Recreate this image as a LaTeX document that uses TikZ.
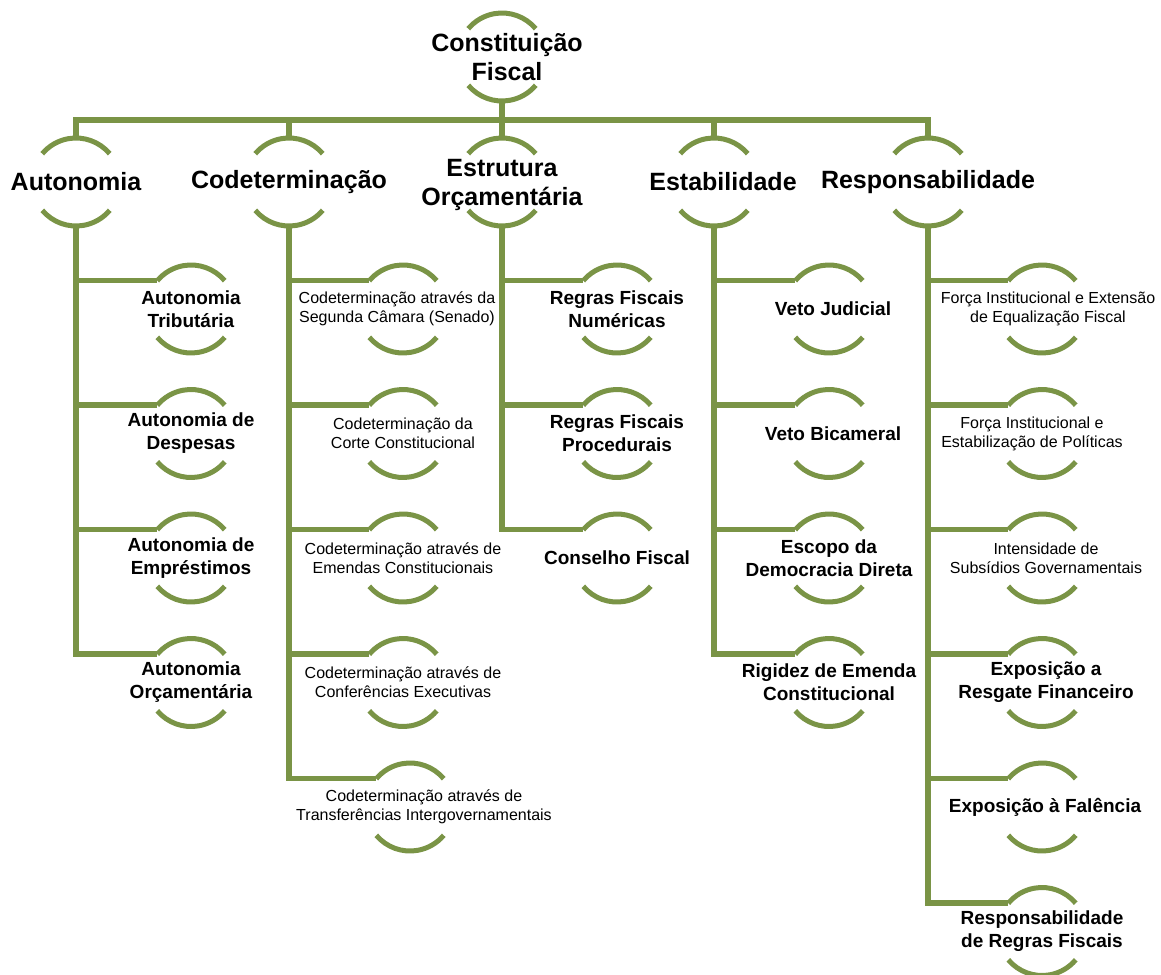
\documentclass[tikz,border=0pt]{standalone}
\usepackage{fontspec}
\setmainfont{Liberation Sans}
\definecolor{leaf}{RGB}{122,148,70}

\begin{document}
\begin{tikzpicture}[x=1pt,y=1pt,
    ring/.style={circle, minimum size=88pt, inner sep=0pt, outer sep=0pt},
    headtext/.style={font=\fontsize{25}{29}\selectfont\bfseries, align=center, inner sep=0pt},
    subtext/.style={font=\fontsize{19}{23}\selectfont\bfseries, align=center, inner sep=0pt},
    notetext/.style={font=\fontsize{16}{19}\selectfont, align=center, inner sep=0pt},
    link/.style={leaf, line width=5.5pt},
    rim/.style={leaf, line width=5pt}]
    \useasboundingbox (0,0) rectangle (1161,-974);
    % rings
    \node [ring] (root) at (502,-57) {};
    \node [ring] (aut) at (76,-182) {};
    \node [ring] (cod) at (289,-182) {};
    \node [ring] (est) at (502,-182) {};
    \node [ring] (stb) at (714,-182) {};
    \node [ring] (res) at (928,-182) {};
    \node [ring] (aut1) at (191,-309) {};
    \node [ring] (aut2) at (191,-433.5) {};
    \node [ring] (aut3) at (191,-558) {};
    \node [ring] (aut4) at (191,-682.5) {};
    \node [ring] (cod1) at (403,-309) {};
    \node [ring] (cod2) at (403,-433.5) {};
    \node [ring] (cod3) at (403,-558) {};
    \node [ring] (cod4) at (403,-682.5) {};
    \node [ring] (cod5) at (410,-807) {};
    \node [ring] (est1) at (617,-309) {};
    \node [ring] (est2) at (617,-433.5) {};
    \node [ring] (est3) at (617,-558) {};
    \node [ring] (stb1) at (829,-309) {};
    \node [ring] (stb2) at (829,-433.5) {};
    \node [ring] (stb3) at (829,-558) {};
    \node [ring] (stb4) at (829,-682.5) {};
    \node [ring] (res1) at (1042,-309) {};
    \node [ring] (res2) at (1042,-433.5) {};
    \node [ring] (res3) at (1042,-558) {};
    \node [ring] (res4) at (1042,-682.5) {};
    \node [ring] (res5) at (1042,-807) {};
    \node [ring] (res6) at (1042,-931.5) {};
    \foreach \n in {root,aut,cod,est,stb,res,aut1,aut2,aut3,aut4,cod1,cod2,cod3,cod4,cod5,
        est1,est2,est3,stb1,stb2,stb3,stb4,res1,res2,res3,res4,res5,res6} {
        \draw [rim] (\n.40) arc [start angle=40, end angle=140, radius=44pt];
        \draw [rim] (\n.220) arc [start angle=220, end angle=320, radius=44pt];
    }
    % texts
    \node [headtext] (root-t) at ([xshift=5pt]root) {Constituição\\Fiscal};
    \node [headtext] (aut-t) at (aut) {Autonomia};
    \node [headtext] (cod-t) at (cod) {Codeterminação};
    \node [headtext] (est-t) at ([yshift=-3pt]est) {Estrutura\\Orçamentária};
    \node [headtext] (stb-t) at ([xshift=9pt]stb) {Estabilidade};
    \node [headtext] (res-t) at (res) {Responsabilidade};
    \node [subtext] (aut1-t) at (aut1) {Autonomia\\Tributária};
    \node [subtext] (aut2-t) at (aut2) {Autonomia de\\Despesas};
    \node [subtext] (aut3-t) at (aut3) {Autonomia de\\Empréstimos};
    \node [subtext] (aut4-t) at (aut4) {Autonomia\\Orçamentária};
    \node [notetext] (cod1-t) at ([xshift=-6pt]cod1) {Codeterminação através da\\Segunda Câmara (Senado)};
    \node [notetext] (cod2-t) at (cod2) {Codeterminação da\\Corte Constitucional};
    \node [notetext] (cod3-t) at (cod3) {Codeterminação através de\\Emendas Constitucionais};
    \node [notetext] (cod4-t) at (cod4) {Codeterminação através de\\Conferências Executivas};
    \node [notetext] (cod5-t) at ([xshift=14pt]cod5) {Codeterminação através de\\Transferências Intergovernamentais};
    \node [subtext] (est1-t) at (est1) {Regras Fiscais\\Numéricas};
    \node [subtext] (est2-t) at (est2) {Regras Fiscais\\Procedurais};
    \node [subtext] (est3-t) at (est3) {Conselho Fiscal};
    \node [subtext] (stb1-t) at ([xshift=4pt]stb1) {Veto Judicial};
    \node [subtext] (stb2-t) at ([xshift=4pt]stb2) {Veto Bicameral};
    \node [subtext] (stb3-t) at (stb3) {Escopo da\\Democracia Direta};
    \node [subtext] (stb4-t) at (stb4) {Rigidez de Emenda\\Constitucional};
    \node [notetext] (res1-t) at ([xshift=6pt]res1) {Força Institucional e Extensão\\de Equalização Fiscal};
    \node [notetext] (res2-t) at ([xshift=-10pt]res2) {Força Institucional e\\Estabilização de Políticas};
    \node [notetext] (res3-t) at ([xshift=4pt]res3) {Intensidade de\\Subsídios Governamentais};
    \node [subtext] (res4-t) at ([xshift=4pt]res4) {Exposição a\\Resgate Financeiro};
    \node [subtext] (res5-t) at ([xshift=3pt]res5) {Exposição à Falência};
    \node [subtext] (res6-t) at (res6) {Responsabilidade\\de Regras Fiscais};
    % connectors
    \coordinate (bar) at (502,-120);
    \draw [link] (root.south) -- (root.south |- bar);
    \draw [link] (aut.north) -- (aut.north |- bar) -- (res.north |- bar) -- (res.north);
    \foreach \n in {cod,est,stb} \draw [link] (\n.north) -- (\n.north |- bar);
    \foreach \n in {1,...,4} \draw [link] (aut.south) |- (aut\n.140);
    \foreach \n in {1,...,5} \draw [link] (cod.south) |- (cod\n.140);
    \foreach \n in {1,...,3} \draw [link] (est.south) |- (est\n.140);
    \foreach \n in {1,...,4} \draw [link] (stb.south) |- (stb\n.140);
    \foreach \n in {1,...,6} \draw [link] (res.south) |- (res\n.140);
\end{tikzpicture}
\end{document}
